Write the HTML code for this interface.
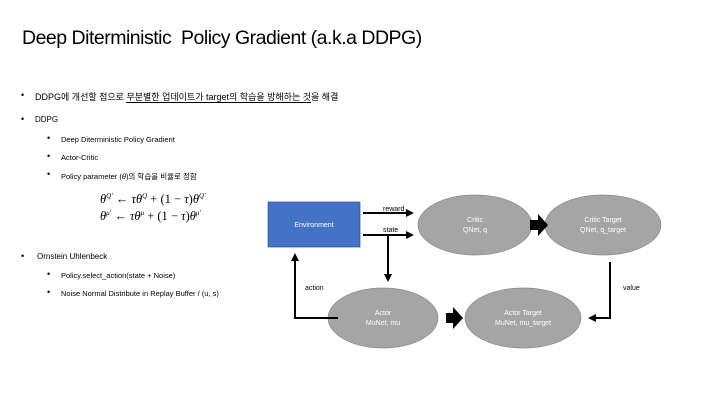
<!DOCTYPE html>
<html><head><meta charset="utf-8"><style>
body{margin:0;width:720px;height:405px;background:#fff;position:relative;overflow:hidden;font-family:"Liberation Sans","Noto Sans CJK KR",sans-serif;color:#000}
.t{position:absolute;white-space:nowrap}
.s{font-size:7.5px}
.b{position:absolute;font-size:9px}
</style></head><body>
<div class="t" style="left:22px;top:27px;font-size:19.5px;letter-spacing:-0.5px">Deep Diterministic&nbsp; Policy Gradient (a.k.a DDPG)</div>
<div class="b" style="left:21px;top:90px">•</div>
<div class="t" style="left:35px;top:90px;font-size:9px">DDPG에 개선할 점으로 <span style="border-bottom:1.5px solid #000">무분별한 업데이트가 target의 학습을 방해하는 것</span>을 해결</div>
<div class="b" style="left:21px;top:114px">•</div>
<div class="t" style="left:35px;top:115px;font-size:8px">DDPG</div>
<div class="b" style="left:47px;top:133px">•</div>
<div class="t s" style="left:61px;top:135px">Deep Diterministic Policy Gradient</div>
<div class="b" style="left:47px;top:151px">•</div>
<div class="t s" style="left:61px;top:153px">Actor-Critic</div>
<div class="b" style="left:47px;top:169px">•</div>
<div class="t s" style="left:61px;top:171px">Policy parameter (<i>θ</i>)의 학습을 비율로 정함</div>
<div class="t" style="left:100px;top:192px;font-size:12.5px;font-family:'Liberation Serif',serif"><i>θ</i><sup style="font-size:7px"><i>Q′</i></sup> ← <i>τθ</i><sup style="font-size:7px"><i>Q</i></sup> + (1 − <i>τ</i>)<i>θ</i><sup style="font-size:7px"><i>Q′</i></sup></div>
<div class="t" style="left:100px;top:209px;font-size:12.5px;font-family:'Liberation Serif',serif"><i>θ</i><sup style="font-size:7px"><i>μ′</i></sup> ← <i>τθ</i><sup style="font-size:7px"><i>μ</i></sup> + (1 − <i>τ</i>)<i>θ</i><sup style="font-size:7px"><i>μ′</i></sup></div>
<div class="b" style="left:21px;top:251px">•</div>
<div class="t" style="left:37px;top:252px;font-size:8px">Ornstein Uhlenbeck</div>
<div class="b" style="left:47px;top:269px">•</div>
<div class="t s" style="left:61px;top:271px">Policy.select_action(state + Noise)</div>
<div class="b" style="left:47px;top:287px">•</div>
<div class="t s" style="left:61px;top:289px">Noise Normal Distribute in Replay Buffer / (u, s)</div>
<svg width="720" height="405" style="position:absolute;left:0;top:0" font-family="Liberation Sans, sans-serif" font-size="7">
<defs><marker id="a" markerWidth="4" markerHeight="4" refX="3" refY="2" orient="auto" markerUnits="strokeWidth"><path d="M0,0L4,2L0,4z" fill="#000"/></marker></defs>
<rect x="268" y="202" width="92" height="45" fill="#4472c4" stroke="#2f528f" stroke-width="0.7"/>
<text x="314" y="227" fill="#fff" text-anchor="middle">Environment</text>
<g fill="#a5a5a5" stroke="#8a8a8a" stroke-width="0.7">
<ellipse cx="475" cy="225" rx="57" ry="30"/><ellipse cx="603" cy="225" rx="58" ry="30"/>
<ellipse cx="383" cy="318" rx="55" ry="30"/><ellipse cx="523" cy="318" rx="58" ry="30"/></g>
<g fill="#fff" text-anchor="middle">
<text x="475" y="222">Critic</text><text x="475" y="232">QNet, q</text>
<text x="603" y="222">Critic Target</text><text x="603" y="232">QNet, q_target</text>
<text x="383" y="315">Actor</text><text x="383" y="325">MuNet, mu</text>
<text x="523" y="315">Actor Target</text><text x="523" y="325">MuNet, mu_target</text></g>
<g stroke="#000" stroke-width="2" fill="none">
<path d="M363 213H412" marker-end="url(#a)"/>
<path d="M363 235H412" marker-end="url(#a)"/>
<path d="M388 235V280" marker-end="url(#a)"/>
<path d="M338 318H295V255" marker-end="url(#a)"/>
<path d="M610 262V318H590" marker-end="url(#a)"/>
</g>
<path d="M530 220h8v-6l10 11l-10 11v-6h-8z" fill="#000"/>
<path d="M446 313h7v-6l10 11l-10 11v-6h-7z" fill="#000"/>
<text x="383" y="211">reward</text><text x="383" y="232">state</text>
<text x="305" y="290">action</text><text x="623" y="290">value</text>
</svg>
</body></html>
